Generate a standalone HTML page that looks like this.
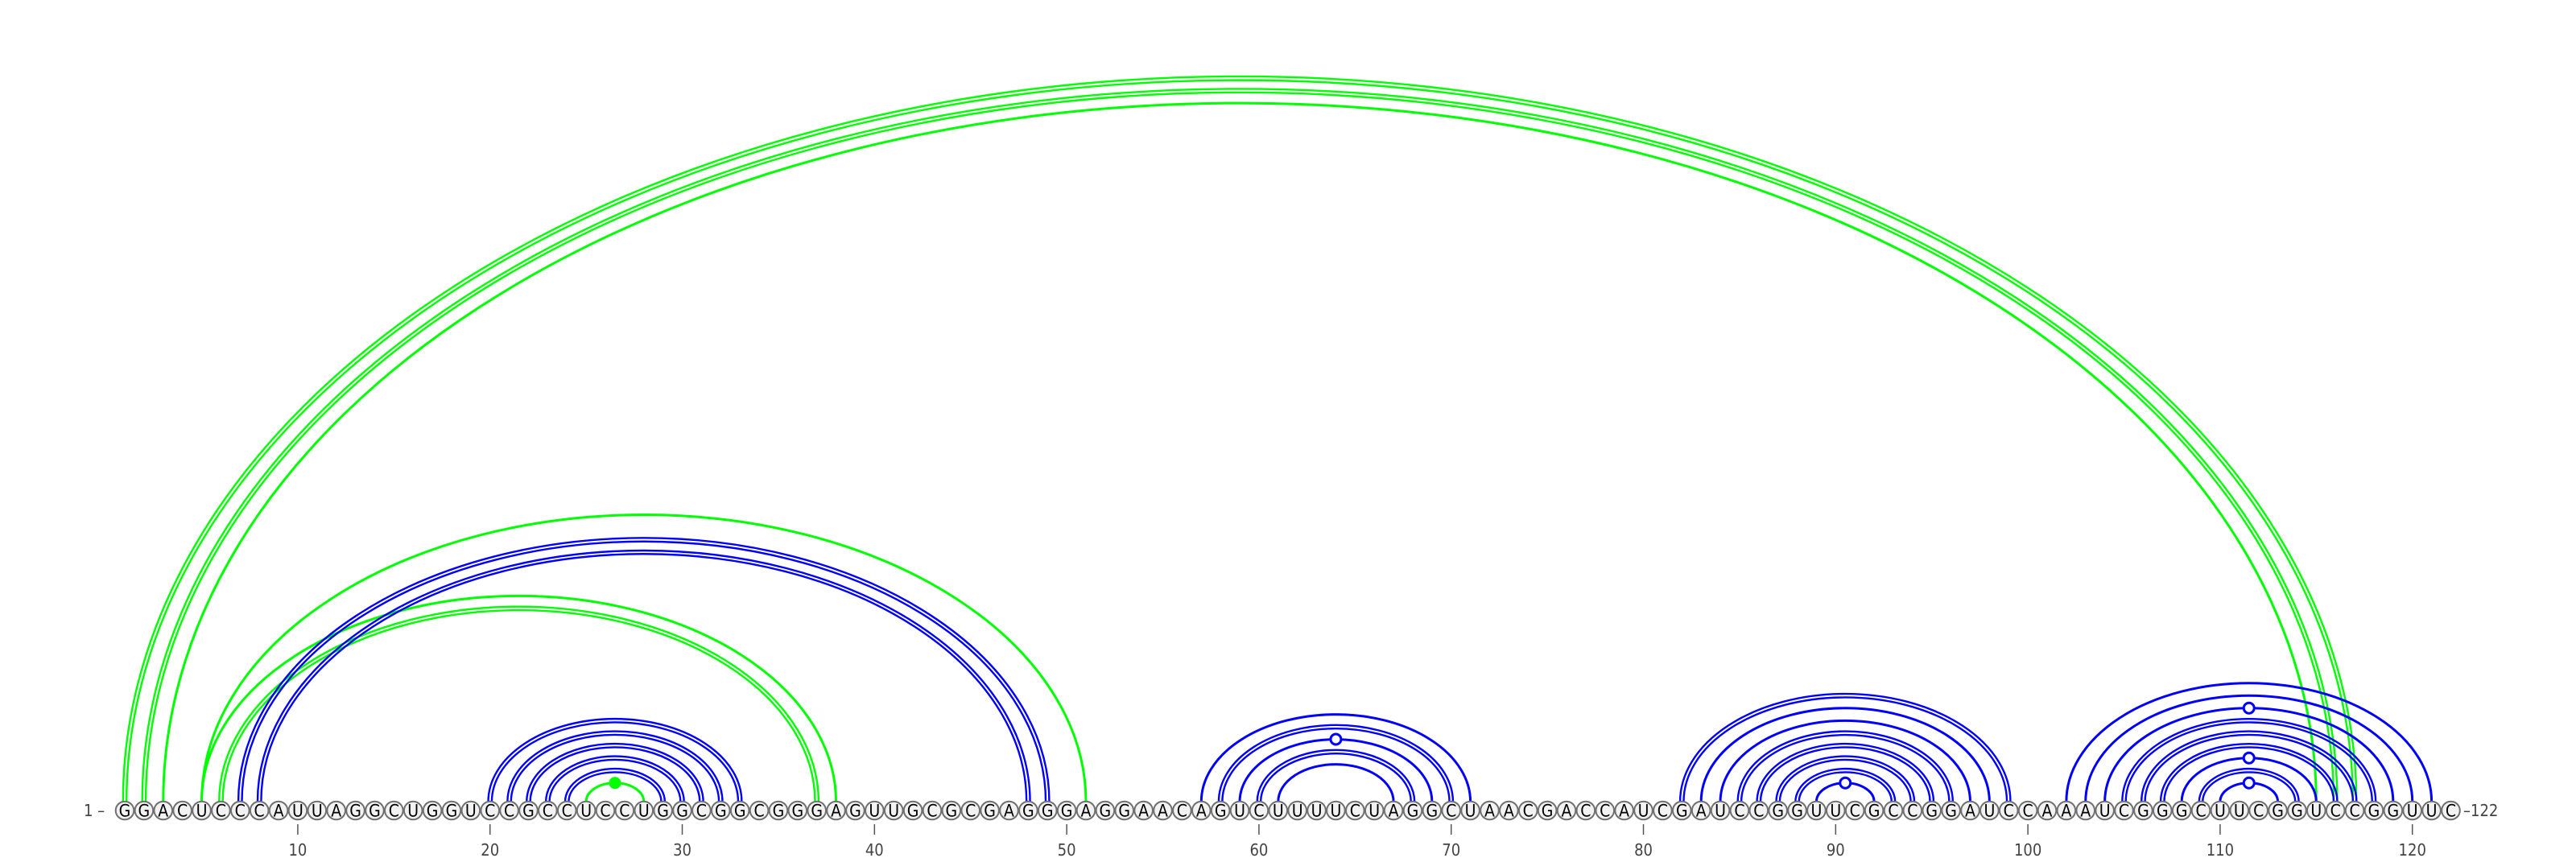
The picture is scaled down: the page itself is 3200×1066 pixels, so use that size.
<!DOCTYPE html>
<html><head><meta charset="utf-8"><style>
html,body{margin:0;padding:0;background:#fff;}
svg{display:block;}
</style></head><body>
<svg id="chart" width="3200" height="1066" viewBox="0 0 3200 1066" xmlns="http://www.w3.org/2000/svg">
<g id="arcs"></g>
<g id="markers"></g>
<g id="nts"></g>
<g id="axis"></g>
</svg>
<script>
const sequence = "GGACUCCCAUUAGGCUGGUC" + "CGCCUCCUGGCGGCGGGAGU" + "UGCGCGAGGGAGGAACAGUC" + "UUUUCUAGGCUAACGACCAU" + "CGAUCCGGUUCGCCGGAUCC" + "AAAUCGGGCUUCGGUCCGGUUC";
// pairs: [i, j, color, double?]
const bluePairs = [
  [7,49,1],[8,48,1],
  [20,33,1],[21,32,1],[22,31,1],[23,30,1],[24,29,1],
  [57,71,0],[58,70,1],[59,69,0],[60,68,1],[61,67,0],
  [82,99,1],[83,98,0],[84,97,0],[85,96,1],[86,95,1],[87,94,1],[88,93,1],[89,92,0],
  [102,121,0],[103,120,0],[104,119,0],[105,118,1],[106,117,1],[107,116,1],[108,115,0],[109,114,1],[110,113,0]
];
const greenPairs = [
  [1,117,1],[2,116,1],[3,115,0],
  [5,51,0],[5,38,0],[6,37,1],
  [25,28,0]
];
const openMarkers = [[59,69],[89,92],[104,119],[108,115],[110,113]];
const filledMarkers = [[25,28]];
const tickPositions = [10,20,30,40,50,60,70,80,90,100,110,120];

const NS = "http://www.w3.org/2000/svg";
const X0 = 155, STEP = 23.88, YB = 996, YC = 1007, RATIO = 0.649;
function xPos(i){ return X0 + (i-1)*STEP; }
function ry(i,j){ return (xPos(j)-xPos(i))/2*RATIO; }
function mk(tag, attrs, parent){
  const e = document.createElementNS(NS, tag);
  for (const k in attrs) e.setAttribute(k, attrs[k]);
  parent.appendChild(e); return e;
}
const arcsG = document.getElementById('arcs');
function arcPath(x1,x2,rx,r){ return `M${x1},${YB} A${rx},${r} 0 0 1 ${x2},${YB}`; }
function drawPair(p, color){
  const [i,j,dbl] = p;
  const x1 = xPos(i), x2 = xPos(j), rx = (x2-x1)/2, r = ry(i,j);
  if (dbl){
    [-2.2, 2.2].forEach(o => {
      const e = mk('path', {d: arcPath(x1-o, x2+o, rx+o, r+o), fill:'none', stroke:color, 'stroke-width':2.4}, arcsG);
      
      
    });
  } else {
    const e = mk('path', {d: arcPath(x1, x2, rx, r), fill:'none', stroke:color, 'stroke-width':3}, arcsG);
    
    
  }
}
greenPairs.forEach(p => drawPair(p, '#00ff00'));
bluePairs.forEach(p => drawPair(p, '#0000ff'));

const mG = document.getElementById('markers');
openMarkers.forEach(([i,j]) => {
  const c = mk('circle', {cx:(xPos(i)+xPos(j))/2, cy:YB-ry(i,j), r:6.5, fill:'#fff', stroke:'#0000ff', 'stroke-width':3}, mG);
  
  
});
filledMarkers.forEach(([i,j]) => {
  const c = mk('circle', {cx:(xPos(i)+xPos(j))/2, cy:YB-ry(i,j), r:7.5, fill:'#00ff00'}, mG);
  
  
});

const nG = document.getElementById('nts');
for (let k = 0; k < sequence.length; k++){
  const x = xPos(k+1);
  const c = mk('circle', {cx:x, cy:YC, r:11.3, fill:'#f2f2f2', stroke:'#707070', 'stroke-width':2}, nG);
  
  
  const t = mk('text', {x:x, y:YC+7.5, 'text-anchor':'middle', 'font-family':'"DejaVu Sans Condensed","Liberation Sans Narrow","Liberation Sans",sans-serif', 'font-size':21, fill:'#000'}, nG);
  t.textContent = sequence[k];
  
  
}

const aG = document.getElementById('axis');
tickPositions.forEach(v => {
  const x = xPos(v);
  const l = mk('line', {x1:x, x2:x, y1:1024, y2:1037, stroke:'#555', 'stroke-width':1.5}, aG);
  
  
  const t = mk('text', {x:x, y:1063, 'text-anchor':'middle', 'font-family':'"DejaVu Sans Condensed","Liberation Sans",sans-serif', 'font-size':20, fill:'#444'}, aG);
  t.textContent = v;
  
  
});
const s = mk('text', {x:104, y:1014, 'font-family':'"DejaVu Sans Condensed","Liberation Sans",sans-serif', 'font-size':20, fill:'#444'}, aG);
s.textContent = '1 –';


const e = mk('text', {x:3060, y:1014, 'font-family':'"DejaVu Sans Condensed","Liberation Sans",sans-serif', 'font-size':20, fill:'#444'}, aG);
e.textContent = '–' + sequence.length;


</script>
</body></html>
